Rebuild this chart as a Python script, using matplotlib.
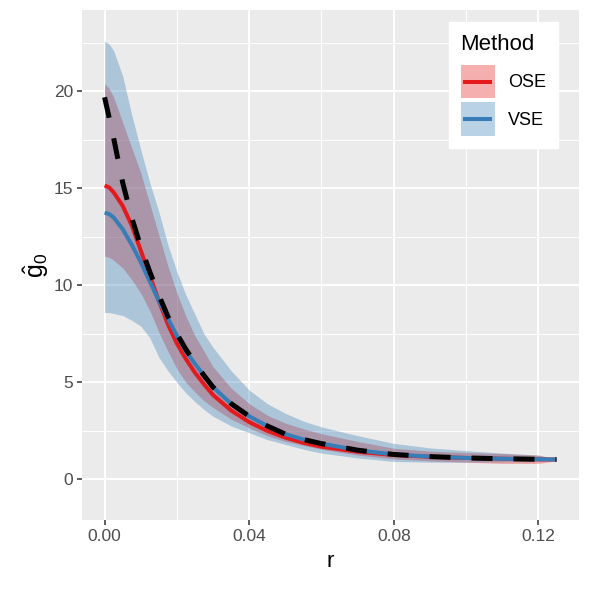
import matplotlib
matplotlib.use("Agg")
import matplotlib.pyplot as plt
from matplotlib.patches import Patch, Rectangle
from matplotlib.lines import Line2D

plt.rcParams['font.family'] = ['Liberation Sans', 'DejaVu Sans']
plt.rcParams['mathtext.fontset'] = 'custom'
plt.rcParams['mathtext.rm'] = 'Liberation Sans'
plt.rcParams['mathtext.it'] = 'Liberation Sans'

# distances r and estimated curves
r = [0, 0.00125, 0.0025, 0.005, 0.0075, 0.01, 0.0125, 0.015, 0.0175, 0.02, 0.0225, 0.025, 0.0275, 0.03,
     0.035, 0.04, 0.045, 0.05, 0.055, 0.06, 0.07, 0.08, 0.09, 0.1, 0.11, 0.12, 0.125]
g_true = [19.7, 18.65, 17.6, 15.3, 13.5, 12.0, 10.7, 9.5, 8.4, 7.5, 6.7, 6.0, 5.35, 4.75,
          3.9, 3.25, 2.75, 2.33, 2.05, 1.84, 1.5, 1.28, 1.17, 1.1, 1.06, 1.03, 1.02]
ose_mean = [15.15, 15.05, 14.8, 14.1, 13.1, 11.8, 10.5, 9.2, 8.0, 7.0, 6.2, 5.5, 4.9, 4.35,
            3.55, 2.95, 2.5, 2.15, 1.88, 1.68, 1.42, 1.25, 1.16, 1.1, 1.06, 1.03, 1.02]
vse_mean = [13.75, 13.68, 13.5, 12.9, 12.1, 11.2, 10.2, 9.2, 8.3, 7.4, 6.6, 5.95, 5.35, 4.75,
            3.9, 3.25, 2.75, 2.33, 2.05, 1.84, 1.5, 1.28, 1.17, 1.1, 1.06, 1.03, 1.02]
ose_lo = [11.5, 11.45, 11.3, 10.9, 10.3, 9.6, 8.7, 7.6, 6.6, 5.7, 5.0, 4.5, 4.05, 3.7,
          3.1, 2.65, 2.25, 1.95, 1.75, 1.55, 1.25, 1.05, 0.95, 0.88, 0.82, 0.82, 0.95]
ose_hi = [20.4, 20.15, 19.7, 18.4, 17.1, 15.8, 14.2, 12.6, 11.0, 9.6, 8.4, 7.4, 6.6, 5.8,
          4.7, 3.9, 3.3, 2.9, 2.6, 2.35, 1.95, 1.6, 1.45, 1.38, 1.33, 1.25, 1.05]
vse_lo = [8.6, 8.6, 8.55, 8.45, 8.2, 7.9, 7.3, 6.3, 5.6, 5.0, 4.45, 4.0, 3.6, 3.25,
          2.75, 2.4, 2.05, 1.8, 1.55, 1.35, 1.1, 0.92, 0.88, 0.88, 0.9, 0.95, 1.0]
vse_hi = [22.6, 22.45, 22.1, 20.8, 18.8, 17.0, 15.3, 13.8, 12.1, 10.7, 9.5, 8.5, 7.5, 6.8,
          5.6, 4.6, 3.9, 3.4, 3.0, 2.7, 2.25, 1.85, 1.62, 1.48, 1.35, 1.24, 1.05]

methods = ["OSE", "VSE"]
colors = {"OSE": "#E41A1C", "VSE": "#377EB8"}
x_ticks = [0.00, 0.04, 0.08, 0.12]
y_ticks = [0, 5, 10, 15, 20]

alpha = 0.35
line_w = 2.9


class KeyHandler:
    # ggplot-like key: filled square with the line through its middle
    def legend_artist(self, legend, orig_handle, fontsize, handlebox):
        x0, y0 = -handlebox.xdescent, -handlebox.ydescent
        w, h = handlebox.width, handlebox.height
        col = orig_handle.get_edgecolor()
        rect = Rectangle((x0, y0), w, h, facecolor=col, alpha=alpha, lw=0,
                         transform=handlebox.get_transform())
        line = Line2D([x0 + w * 0.08, x0 + w * 0.92], [y0 + h / 2] * 2, color=col, lw=line_w,
                      solid_capstyle="butt", transform=handlebox.get_transform())
        handlebox.add_artist(rect)
        handlebox.add_artist(line)
        return rect


fig = plt.figure(figsize=(5.9, 5.9), dpi=100)
ax = fig.add_axes([82/590, 70/590, 497/590, 510/590])
ax.set_facecolor("#EBEBEB")

ax.fill_between(r, ose_lo, ose_hi, color=colors["OSE"], alpha=alpha, lw=0, zorder=2)
ax.fill_between(r, vse_lo, vse_hi, color=colors["VSE"], alpha=alpha, lw=0, zorder=2)
ax.plot(r, ose_mean, color=colors["OSE"], lw=line_w, zorder=3, solid_capstyle="butt")
ax.plot(r, vse_mean, color=colors["VSE"], lw=line_w, zorder=3, solid_capstyle="butt")
ax.plot(r, g_true, color="black", lw=3.6, dashes=(4.2, 4.2), dash_capstyle="butt", zorder=4)

ax.set_xlim(-0.00625, 0.13125)
ax.set_ylim(-2.1, 24.2)
ax.set_xticks(x_ticks)
ax.set_xticklabels(["0.00", "0.04", "0.08", "0.12"])
ax.set_yticks(y_ticks)
ax.set_xticks([0.02, 0.06, 0.10], minor=True)
ax.set_yticks([2.5, 7.5, 12.5, 17.5, 22.5], minor=True)
ax.grid(which="major", color="white", lw=1.4, zorder=1)
ax.grid(which="minor", color="white", lw=0.7, zorder=1)
ax.set_axisbelow(True)
for s in ax.spines.values():
    s.set_visible(False)
ax.tick_params(which="major", length=3.3, width=1.1, color="#333333", labelcolor="#4D4D4D",
               labelsize=12.5, pad=3)
ax.tick_params(which="minor", length=0)

ax.set_xlabel("r", fontsize=16, labelpad=5)
ax.set_ylabel(r"$\hat{\mathrm{g}}_0$", fontsize=18, labelpad=2)

handles = [Patch(edgecolor=colors[m]) for m in methods]
leg = ax.legend(handles, methods, title="Method", loc="upper right",
                bbox_to_anchor=(0.958, 0.976), borderaxespad=0, frameon=True,
                fancybox=False, edgecolor="white", facecolor="white", framealpha=1,
                fontsize=13, title_fontsize=16, handlelength=1.9, handleheight=2.5,
                handletextpad=0.75, labelspacing=0.22, borderpad=0.65,
                handler_map={Patch: KeyHandler()})
leg._legend_box.align = "left"
leg._legend_box.sep = 7

fig.savefig("out.png", dpi=100)
